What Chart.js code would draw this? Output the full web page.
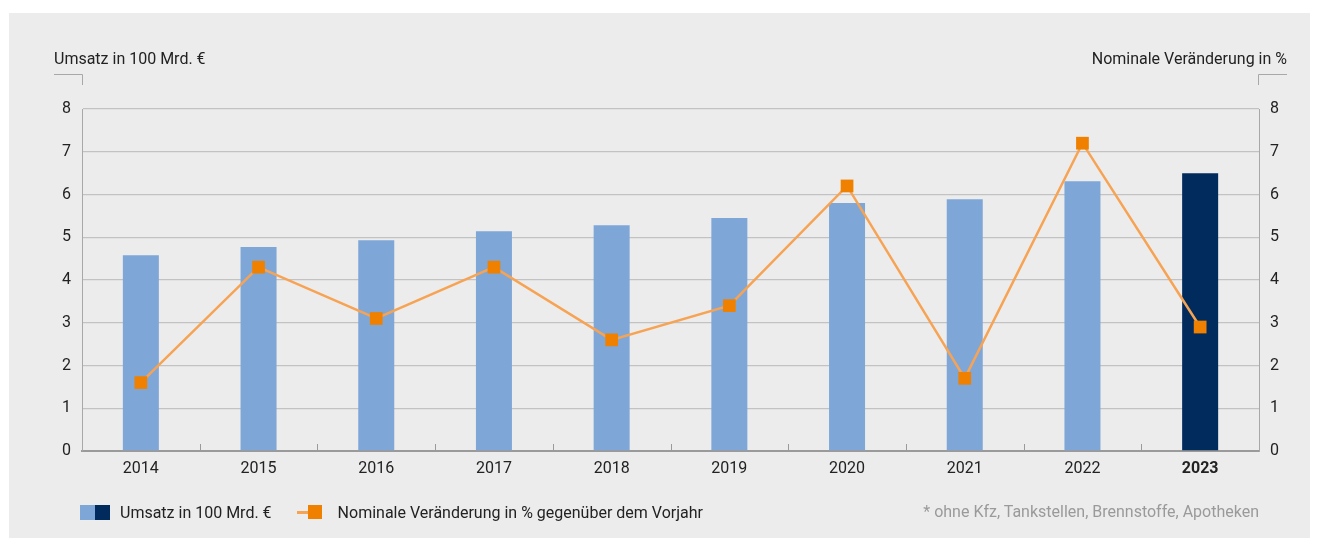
<!DOCTYPE html>
<html>
<head>
<meta charset="utf-8">
<script src="https://cdn.jsdelivr.net/npm/chart.js@4.4.1/dist/chart.umd.min.js"></script>
<style>
  html, body { margin: 0; padding: 0; background: #fff; }
  body { width: 1319px; height: 538px; position: relative; overflow: hidden; font-family: Roboto, sans-serif; }
  .panel { position: absolute; left: 9px; top: 13px; width: 1301px; height: 525px; background: #ececec; }
  #wrap { position: absolute; left: 0; top: 0; width: 1319px; height: 538px; }
  .legend { position: absolute; top: 503px; left: 80px; height: 18px; display: flex; align-items: center; font-size: 16px; color: #222; }
  .sw { display: inline-block; width: 15px; height: 15px; }
  .item { display: flex; align-items: center; }
  .note { position: absolute; top: 503px; right: 60px; height: 18px; line-height: 18px; font-size: 16px; color: #9a9a9a; }
</style>
</head>
<body>
<div class="panel"></div>
<div id="wrap"><canvas id="chart" width="1319" height="538"></canvas></div>
<div class="legend">
  <div class="item"><span class="sw" style="background:#7ea7d8"></span><span class="sw" style="background:#002b5c"></span><span style="margin-left:10px">Umsatz in 100 Mrd. €</span></div>
  <div class="item" style="margin-left:25px">
    <span style="display:inline-block;width:11px;height:3px;background:#f7a354"></span><span class="sw" style="background:#f08000;width:14px;height:14px"></span>
    <span style="margin-left:16px">Nominale Veränderung in % gegenüber dem Vorjahr</span>
  </div>
</div>
<div class="note">* ohne Kfz, Tankstellen, Brennstoffe, Apotheken</div>
<script>
const years = ['2014', '2015', '2016', '2017', '2018', '2019', '2020', '2021', '2022', '2023'];
const umsatz = [4.58, 4.77, 4.93, 5.14, 5.28, 5.45, 5.80, 5.89, 6.31, 6.50];
const veraenderung = [1.6, 4.3, 3.1, 4.3, 2.6, 3.4, 6.2, 1.7, 7.2, 2.9];
const axisTicks = [0, 1, 2, 3, 4, 5, 6, 7, 8];
const leftTitle = 'Umsatz in 100 Mrd. €';
const rightTitle = 'Nominale Veränderung in %';

const LIGHT = '#7ea7d8', DARK = '#002b5c';
const barColors = years.map((y, i) => i === years.length - 1 ? DARK : LIGHT);

// Titel, Klammern und kleine Striche an der x-Achse
const extras = {
  id: 'extras',
  afterDraw(chart) {
    const { ctx, chartArea: a } = chart;
    const x = chart.scales.x;
    ctx.save();
    ctx.strokeStyle = '#a8a8a8';
    ctx.lineWidth = 1;
    ctx.beginPath();
    ctx.moveTo(a.left - 28, 74.5); ctx.lineTo(a.left + 0.5, 74.5); ctx.lineTo(a.left + 0.5, 85);
    ctx.moveTo(a.right + 28, 74.5); ctx.lineTo(a.right - 0.5, 74.5); ctx.lineTo(a.right - 0.5, 85);
    ctx.stroke();

    ctx.strokeStyle = '#9a9a9a';
    ctx.beginPath();
    for (let i = 1; i < years.length; i++) {
      const px = Math.round((x.getPixelForTick(i - 1) + x.getPixelForTick(i)) / 2) + 0.5;
      ctx.moveTo(px, a.bottom); ctx.lineTo(px, a.bottom - 7);
    }
    ctx.stroke();

    ctx.fillStyle = '#222';
    ctx.font = '16px Roboto';
    ctx.textBaseline = 'middle';
    ctx.textAlign = 'left';
    ctx.fillText(leftTitle, a.left - 28, 60);
    ctx.textAlign = 'right';
    ctx.fillText(rightTitle, a.right + 28, 60);
    ctx.restore();
  }
};

new Chart(document.getElementById('chart'), {
  type: 'bar',
  data: {
    labels: years,
    datasets: [
      {
        type: 'line',
        label: 'Nominale Veränderung in % gegenüber dem Vorjahr',
        data: veraenderung,
        yAxisID: 'y2',
        borderColor: '#f7a354',
        borderWidth: 2.5,
        pointStyle: 'rect',
        pointRadius: 9,
        pointHoverRadius: 9,
        pointBackgroundColor: '#f08000',
        pointBorderWidth: 0,
        tension: 0,
        order: 1
      },
      {
        label: 'Umsatz in 100 Mrd. €',
        data: umsatz,
        yAxisID: 'y',
        backgroundColor: barColors,
        categoryPercentage: 1,
        barPercentage: 0.306,
        order: 2
      }
    ]
  },
  options: {
    responsive: false,
    animation: false,
    layout: { padding: { top: 109, bottom: 57, left: 0, right: 0 } },
    plugins: { legend: { display: false }, tooltip: { enabled: false } },
    scales: {
      x: {
        grid: { display: false, drawTicks: false },
        border: { display: true, color: '#9a9a9a', width: 2 },
        ticks: {
          color: '#222',
          padding: 8,
          font: c => ({ family: 'Roboto', size: 16, weight: c.index === years.length - 1 ? 'bold' : 'normal' })
        },
        afterFit(s) { s.height = 30; }
      },
      y: {
        position: 'left',
        min: 0, max: 8,
        afterBuildTicks(s) { s.ticks = axisTicks.map(v => ({ value: v })); },
        grid: { color: '#c2c2c2', lineWidth: 1.3, drawTicks: false },
        border: { display: true, color: '#a8a8a8', width: 1 },
        ticks: { color: '#222', padding: 11, font: { family: 'Roboto', size: 16 } },
        afterFit(s) { s.width = 82; }
      },
      y2: {
        position: 'right',
        min: 0, max: 8,
        afterBuildTicks(s) { s.ticks = axisTicks.map(v => ({ value: v })); },
        grid: { display: false, drawTicks: false },
        border: { display: true, color: '#a8a8a8', width: 1 },
        ticks: { color: '#222', padding: 11, font: { family: 'Roboto', size: 16 } },
        afterFit(s) { s.width = 60; }
      }
    }
  },
  plugins: [extras]
});
</script>
</body>
</html>
